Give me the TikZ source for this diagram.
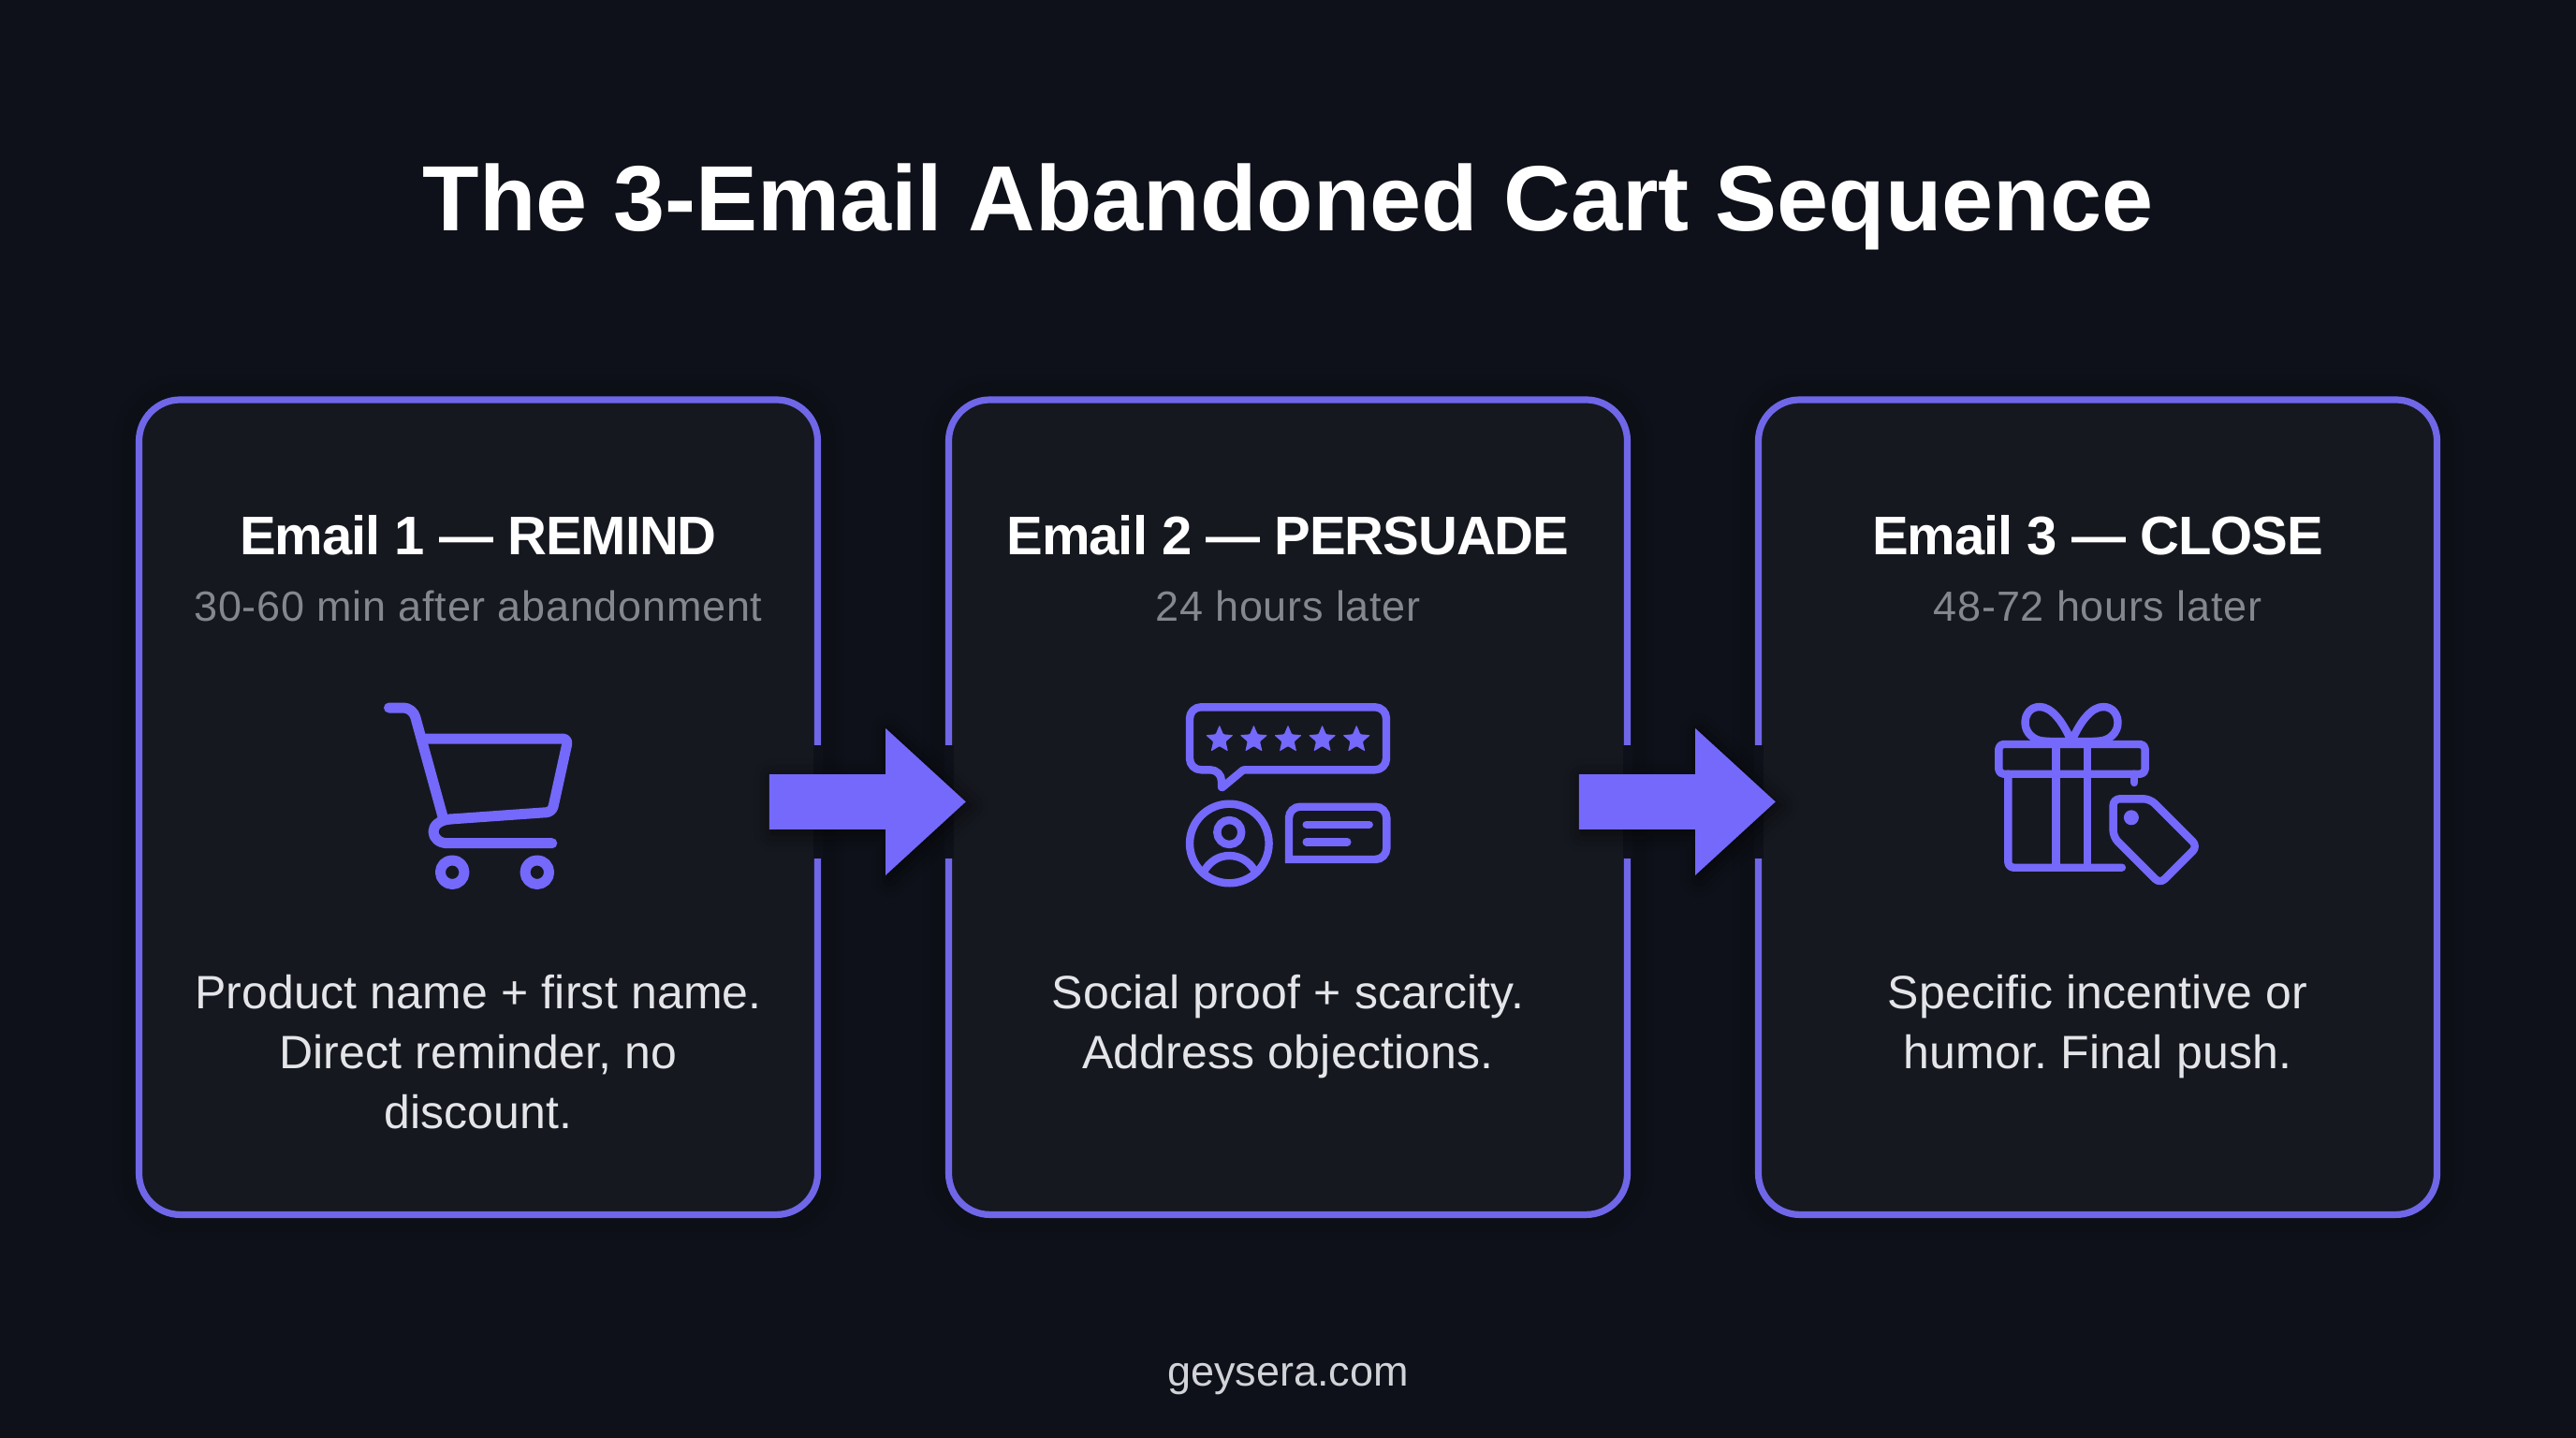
\documentclass[tikz,border=0pt]{standalone}
\usepackage{fontspec}
\setmainfont{Liberation Sans}
\usetikzlibrary{shapes,positioning,shadows.blur}
\definecolor{pagebg}{HTML}{0E1119}
\definecolor{cardbg}{HTML}{161820}
\definecolor{accent}{HTML}{6F66E8}
\definecolor{arrowfill}{HTML}{7469FA}
\definecolor{subgrey}{HTML}{85878F}
\definecolor{bodygrey}{HTML}{E4E5E9}
\definecolor{footgrey}{HTML}{D2D3D8}
\frenchspacing
\tikzset{
  page/.style     = {rectangle, fill=pagebg, minimum width=1376pt, minimum height=768pt, inner sep=0, outer sep=0},
  card/.style     = {rectangle, draw=accent, fill=cardbg, line width=3.6pt, rounded corners=22pt,
                     minimum width=362.5pt, minimum height=435.2pt, inner sep=0, outer sep=0,
                     blur shadow={shadow blur radius=14pt, shadow xshift=0pt, shadow yshift=0pt, shadow opacity=35}},
  bigtitle/.style = {text=white, font=\fontsize{49.5pt}{52pt}\selectfont\bfseries, text height=34pt, text depth=10pt, inner sep=0},
  cardhead/.style = {text=white, font=\fontsize{29pt}{32pt}\selectfont\bfseries\addfontfeatures{LetterSpace=-1.8}, text height=22pt, text depth=0pt, inner sep=0},
  cardsub/.style  = {text=subgrey, font=\fontsize{22.5pt}{26pt}\selectfont\addfontfeatures{LetterSpace=1.6}, text height=16pt, text depth=0pt, inner sep=0},
  cardtext/.style = {text=bodygrey, font=\fontsize{25pt}{32pt}\selectfont\addfontfeatures{LetterSpace=.4}, align=center, inner sep=0},
  foot/.style     = {text=footgrey, font=\fontsize{22.5pt}{26pt}\selectfont, inner sep=0},
  gapbox/.style   = {rectangle, fill=pagebg, minimum width=5pt, minimum height=60.5pt, inner sep=0},
  blockarrow/.style = {single arrow, fill=arrowfill, inner sep=0, outer sep=0, text width=0pt, text height=29pt, text depth=0pt,
                     minimum height=105pt, single arrow head extend=24.5pt,
                     single arrow tip angle=85, single arrow head indent=0pt,
                     blur shadow={shadow blur radius=10pt, shadow xshift=2pt, shadow yshift=-2pt, shadow opacity=60}},
  iconline/.style = {draw=arrowfill, line width=4.4pt, line cap=round, line join=round},
  thinline/.style = {iconline, line width=4.2pt},
  iconscope/.style = {x=.5pt, y=-.5pt}
}

\begin{document}
\begin{tikzpicture}

% page and title
\node[page] (bg) at (688pt,-384pt) {};
\useasboundingbox (bg.north west) rectangle (bg.south east);
\node[bigtitle, below=111pt of bg.north, anchor=center] (title) {The 3-Email Abandoned Cart Sequence};

% the three cards
\node[card, below=47.1pt of bg.center, anchor=center] (card2) {};
\node[card, left=70pt of card2] (card1) {};
\node[card, right=70pt of card2] (card3) {};

% texts and icon anchors, relatively positioned
\foreach \n/\head/\sub in {1/Email 1 — REMIND/30-60 min after abandonment,
                           2/Email 2 — PERSUADE/24 hours later,
                           3/Email 3 — CLOSE/48-72 hours later} {
  \node[cardhead, below=71.5pt of card\n.north, anchor=center] (head\n) {\head};
  \node[cardsub, below of = head\n, node distance=38.5pt] (sub\n) {\sub};
  \coordinate[below of = sub\n, node distance=102pt] (icon\n);
}
\node[cardtext, below=95pt of icon1] (text1) {Product name + first name.\\ Direct reminder, no\\ discount.};
\node[cardtext, below=95pt of icon2] (text2) {Social proof + scarcity.\\ Address objections.};
\node[cardtext, below=95pt of icon3] (text3) {Specific incentive or\\ humor. Final push.};

\node[foot, above=31.5pt of bg.south, anchor=center] (site) {geysera.com};

% breaks in the borders, then the arrows
\foreach \a/\b in {1/2,2/3} {
  \node[gapbox, above=2.9pt of card\a.east, anchor=center] (gapa\a) {};
  \node[gapbox, above=2.9pt of card\b.west, anchor=center] (gapb\a) {};
  \path (card\a.east) -- node[blockarrow, xshift=-16.4pt, yshift=2.9pt] (arrow\a) {} (card\b.west);
}

% cart
\begin{scope}[shift={(icon1)}, iconscope]
\draw[iconline, line width=5.5pt, rounded corners=5pt] (-95.5,-95) -- (-70,-95) -- (-37.8,22);
\draw[iconline, line width=5.5pt, rounded corners=3pt] (-58,-62) -- (96,-62) -- (78.8,16.3) -- (-30,24);
\draw[iconline, line width=5.5pt] (-30,24) .. controls (-42,25) and (-48,31) .. (-48,37.5)
  .. controls (-48,44) and (-42,49.7) .. (-33,49.7) -- (78.8,49.7);
\foreach \x in {-27.8,62.8}
  \draw[iconline, line width=5.5pt] (\x,80.7) circle[radius=12.8];
\end{scope}

% review
\begin{scope}[shift={(icon2)}, iconscope]
\draw[thinline, rounded corners=6pt] (-47.7,-28.7) -- (105,-28.7) -- (105,-95.7) -- (-105,-95.7) -- (-105,-28.7)
  -- (-71,-28.7) [rounded corners=.5pt] -- (-71,-9.3) -- cycle;
\foreach \i in {-2,...,2}
  \node[star, star points=5, star point ratio=2.2, fill=arrowfill, inner sep=0, minimum size=15.5pt, rounded corners=.5pt] (star\i) at (\i*36.6,-61) {};
\draw[thinline] (-62.7,50) circle[radius=42.3];
\draw[thinline] (-62.7,38) circle[radius=13];
\draw[thinline] (-90.5,81) .. controls (-84,69) and (-74,63) .. (-62.7,63) .. controls (-51,63) and (-41,69) .. (-34.5,81);
\draw[thinline, line join=miter] (1,67) [rounded corners=6pt] -- (1,10.7) -- (105.3,10.7) -- (105.3,67) [sharp corners] -- cycle;
\draw[thinline] (19.7,29.7) -- (86.7,29.7);
\draw[thinline] (19.7,48.3) -- (63.3,48.3);
\end{scope}

% gift and tag
\begin{scope}[shift={(icon3)}, iconscope]
\draw[thinline, rounded corners=2.5pt] (-105.7,-56) rectangle (50.6,-24.3);
\draw[thinline, rounded corners=3pt] (-95.7,-24.3) -- (-95.7,75.7) -- (25.9,75.7);
\draw[thinline] (39.2,-24.3) -- (39.2,-15);
\draw[thinline] (-44.4,-56) -- (-44.4,75.7);
\draw[thinline] (-11.1,-56) -- (-11.1,75.7);
\draw[thinline] (-28,-59) .. controls (-38,-82) and (-50,-96) .. (-62,-96) .. controls (-72,-96) and (-77.5,-88) .. (-77.5,-79)
  .. controls (-77.5,-68) and (-68,-60) .. (-58,-59.5) .. controls (-48,-58.5) and (-38,-59) .. (-28,-59);
\draw[thinline] (-28,-59) .. controls (-18,-82) and (-6,-96) .. (6,-96) .. controls (16,-96) and (21.5,-88) .. (21.5,-79)
  .. controls (21.5,-68) and (12,-60) .. (2,-59.5) .. controls (-8,-58.5) and (-18,-59) .. (-28,-59);
\draw[thinline, rounded corners=3.5pt] (16.6,2.3) -- (55.9,2.3) -- (106.6,53) -- (66.6,93) -- (16.6,43) -- cycle;
\fill[arrowfill] (35.9,22.3) circle[radius=8];
\end{scope}
\end{tikzpicture}
\end{document}
